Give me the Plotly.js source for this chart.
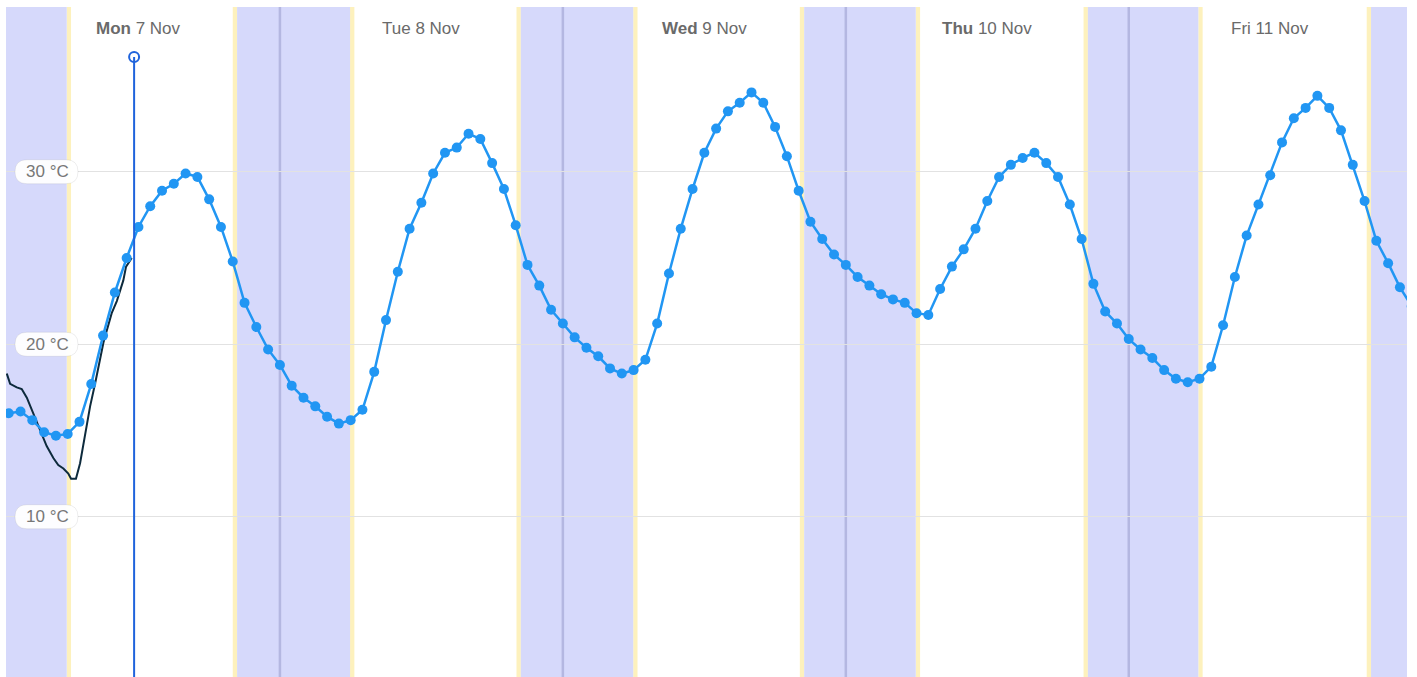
<!DOCTYPE html>
<html>
<head>
<meta charset="utf-8">
<script src="https://cdn.plot.ly/plotly-3.0.1.min.js"></script>
<style>
  html, body { margin: 0; padding: 0; background: #ffffff; }
  #chart { width: 1417px; height: 677px; }
</style>
</head>
<body>
<div id="chart"></div>
<script>
// ---------------- DATA ----------------
// Forecast temperature (°C), hourly from Mon 7 Nov 2022 00:00
const forecastStart = "2022-11-07";
const forecastTemp = [
  16.0, 16.0, 16.1, 15.6, 14.9, 14.7, 14.8, 15.5, 17.7, 20.5, 23.0, 25.0,
  26.8, 28.0, 28.9, 29.3, 29.9, 29.7, 28.4, 26.8, 24.8, 22.4, 21.0, 19.7,
  18.8, 17.6, 16.9, 16.4, 15.8, 15.4, 15.6, 16.2, 18.4, 21.4, 24.2, 26.7,
  28.2, 29.9, 31.1, 31.4, 32.2, 31.9, 30.5, 29.0, 26.9, 24.6, 23.4, 22.0,
  21.2, 20.4, 19.8, 19.3, 18.6, 18.3, 18.5, 19.1, 21.2, 24.1, 26.7, 29.0,
  31.1, 32.5, 33.5, 34.0, 34.6, 34.0, 32.6, 30.9, 28.9, 27.1, 26.1, 25.2,
  24.6, 23.9, 23.4, 22.9, 22.6, 22.4, 21.8, 21.7, 23.2, 24.5, 25.5, 26.7,
  28.3, 29.7, 30.4, 30.8, 31.1, 30.5, 29.7, 28.1, 26.1, 23.5, 21.9, 21.2,
  20.3, 19.7, 19.2, 18.5, 18.0, 17.8, 18.0, 18.7, 21.1, 23.9, 26.3, 28.1,
  29.8, 31.7, 33.1, 33.7, 34.4, 33.7, 32.4, 30.4, 28.3, 26.0, 24.7, 23.3,
  22.2
];

// Observed temperature (°C)
const observedTime = [
  "2022-11-07 00:50", "2022-11-07 01:07", "2022-11-07 01:41", "2022-11-07 02:06",
  "2022-11-07 02:32", "2022-11-07 02:57", "2022-11-07 03:14", "2022-11-07 03:48",
  "2022-11-07 04:13", "2022-11-07 04:47", "2022-11-07 05:12", "2022-11-07 05:38",
  "2022-11-07 06:03", "2022-11-07 06:17", "2022-11-07 06:42", "2022-11-07 07:03",
  "2022-11-07 07:28", "2022-11-07 07:54", "2022-11-07 08:19", "2022-11-07 08:45",
  "2022-11-07 09:02", "2022-11-07 09:19", "2022-11-07 09:44", "2022-11-07 10:10",
  "2022-11-07 10:26", "2022-11-07 10:43", "2022-11-07 10:57", "2022-11-07 11:09",
  "2022-11-07 11:26"
];
const observedTemp = [
  18.3, 17.7, 17.5, 17.4, 16.9, 16.2, 15.8, 14.8,
  14.1, 13.4, 13.0, 12.8, 12.5, 12.2, 12.2, 13.1,
  14.8, 16.4, 17.7, 19.1, 20.1, 20.8, 21.8, 22.5,
  23.1, 23.7, 24.5, 24.7, 25.0
];

// Current time marker
const nowTime = "2022-11-07 11:38";

// Night periods (dark) and twilight edges
const sunsets     = ["2022-11-06 19:58", "2022-11-07 20:00", "2022-11-08 20:04", "2022-11-09 20:06", "2022-11-10 20:10", "2022-11-11 20:11"];
const nightStarts = ["2022-11-06 20:20", "2022-11-07 20:22", "2022-11-08 20:26", "2022-11-09 20:28", "2022-11-10 20:32", "2022-11-11 20:33"];
const nightEnds   = ["2022-11-07 05:55", "2022-11-08 05:57", "2022-11-09 05:58", "2022-11-10 05:56", "2022-11-11 05:54", "2022-11-12 05:53"];
const sunrises    = ["2022-11-07 06:17", "2022-11-08 06:19", "2022-11-09 06:20", "2022-11-10 06:18", "2022-11-11 06:16", "2022-11-12 06:15"];
const midnights   = ["2022-11-08 00:00", "2022-11-09 00:00", "2022-11-10 00:00", "2022-11-11 00:00"];

// Day labels (placed at noon)
const dayNoon   = ["2022-11-07 12:00", "2022-11-08 12:00", "2022-11-09 12:00", "2022-11-10 12:00", "2022-11-11 12:00"];
const dayNames  = ["Mon", "Tue", "Wed", "Thu", "Fri"];
const dayDates  = ["7 Nov", "8 Nov", "9 Nov", "10 Nov", "11 Nov"];
const dayBold   = [true, false, true, true, false];

// Y tick labels
const yTickVals = [10, 20, 30];
const yTickText = ["10 °C", "20 °C", "30 °C"];

// ---------------- BUILD ----------------
function hourToTime(h) {
  const d = 7 + Math.floor(h / 24);
  const hh = h % 24;
  return "2022-11-" + String(d).padStart(2, "0") + " " + String(hh).padStart(2, "0") + ":00";
}
const forecastTime = forecastTemp.map((_, i) => hourToTime(i));

const shapes = [];
// night bands + twilight stripes
for (let i = 0; i < nightStarts.length; i++) {
  shapes.push({type: "rect", xref: "x", yref: "paper", x0: sunsets[i], x1: nightStarts[i], y0: 0, y1: 1,
               fillcolor: "#fdf1bd", line: {width: 0}, layer: "below"});
  shapes.push({type: "rect", xref: "x", yref: "paper", x0: nightEnds[i], x1: sunrises[i], y0: 0, y1: 1,
               fillcolor: "#fdf1bd", line: {width: 0}, layer: "below"});
  shapes.push({type: "rect", xref: "x", yref: "paper", x0: nightStarts[i], x1: nightEnds[i], y0: 0, y1: 1,
               fillcolor: "#d6d9fb", line: {width: 0}, layer: "below"});
}
// midnight lines
midnights.forEach(m => shapes.push({type: "line", xref: "x", yref: "paper", x0: m, x1: m, y0: 0, y1: 1,
  line: {color: "rgba(110,112,170,0.32)", width: 2.5}, layer: "below"}));
// now line
shapes.push({type: "line", xref: "x", yref: "y", x0: nowTime, x1: nowTime, y0: 0.71, y1: 36.65,
  line: {color: "#1f63dc", width: 2}, layer: "above"});
// y label pills
yTickVals.forEach(v => shapes.push({
  type: "path", xref: "paper", yref: "y", xsizemode: "pixel", ysizemode: "pixel",
  xanchor: 0, yanchor: v,
  path: "M 21,-12 L 60,-12 Q 72,-12 72,0 Q 72,12 60,12 L 21,12 Q 9,12 9,0 Q 9,-12 21,-12 Z",
  fillcolor: "rgba(255,255,255,0.95)", line: {color: "rgba(0,0,0,0.07)", width: 1}, layer: "above"
}));

const annotations = [];
yTickVals.forEach((v, i) => annotations.push({
  xref: "paper", yref: "y", x: 0, y: v, xshift: 41, xanchor: "center", yanchor: "middle",
  text: yTickText[i], showarrow: false,
  font: {family: "Liberation Sans, Arial, sans-serif", size: 17, color: "#777777"}
}));
dayNoon.forEach((t, i) => annotations.push({
  xref: "x", yref: "paper", x: t, y: 1, yshift: -21, xanchor: "center", yanchor: "middle",
  text: (dayBold[i] ? "<b>" + dayNames[i] + "</b>" : dayNames[i]) + " " + dayDates[i],
  showarrow: false,
  font: {family: "Liberation Sans, Arial, sans-serif", size: 17, color: "#6a6a6a"}
}));

const traces = [
  {x: observedTime, y: observedTemp, type: "scatter", mode: "lines",
   line: {color: "#0d2a3c", width: 2}, hoverinfo: "skip", showlegend: false},
  {x: forecastTime, y: forecastTemp, type: "scatter", mode: "lines+markers",
   line: {color: "#2196f3", width: 2.5}, marker: {color: "#2196f3", size: 10},
   showlegend: false},
  {x: [nowTime], y: [36.65], type: "scatter", mode: "markers",
   marker: {color: "#ffffff", size: 10, line: {color: "#1f63dc", width: 2}},
   showlegend: false, hoverinfo: "skip"}
];

const layout = {
  width: 1417, height: 677,
  margin: {l: 6, r: 10, t: 7, b: 0, pad: 0},
  paper_bgcolor: "#ffffff", plot_bgcolor: "#ffffff",
  showlegend: false,
  xaxis: {type: "date", range: ["2022-11-07 00:46", "2022-11-11 23:36"],
          showgrid: false, zeroline: false, showticklabels: false, ticks: "", showline: false},
  yaxis: {range: [0.71, 39.55], tickvals: yTickVals, showticklabels: false,
          showgrid: true, gridcolor: "#e2e2e2", gridwidth: 1, zeroline: false, ticks: "", showline: false},
  shapes: shapes,
  annotations: annotations
};

Plotly.newPlot("chart", traces, layout, {displayModeBar: false, staticPlot: true});
</script>
</body>
</html>
